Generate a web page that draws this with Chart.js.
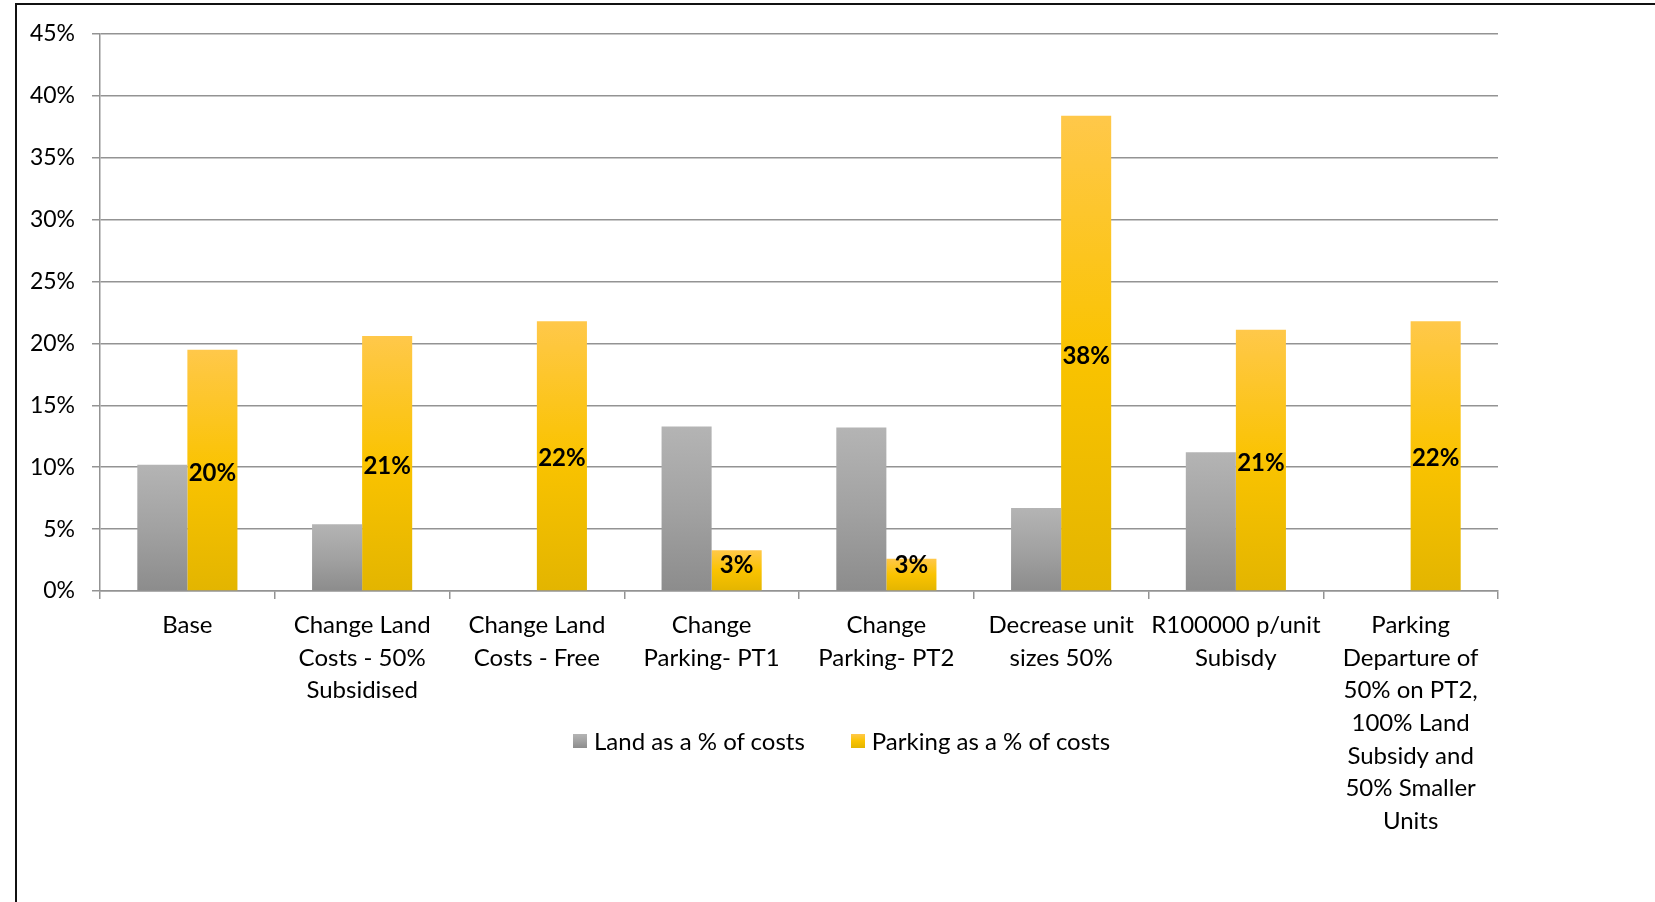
<!DOCTYPE html>
<html>
<head>
<meta charset="utf-8">
<script src="https://cdn.jsdelivr.net/npm/chart.js@4"></script>
<style>
  html, body { margin: 0; padding: 0; background: #fff; overflow: hidden; }
  #wrap { position: relative; width: 1655px; height: 902px; }
  #frame { position: absolute; left: 15px; top: 3px; width: 2000px; height: 2000px; border: 2px solid #111; box-sizing: border-box; }
  #legend { position: absolute; left: 573px; top: 726px; display: flex; align-items: center; font-family: Lato, sans-serif; font-size: 24px; color: #000; }
  #legend .item { display: flex; align-items: center; margin-right: 46px; }
  #legend .sw { width: 14px; height: 14px; margin-right: 7px; }
</style>
</head>
<body>
<div id="wrap">
  <div id="frame"></div>
  <canvas id="myChart"></canvas>
  <div id="legend"></div>
</div>
<script>
const categories = [
    "Base",
    ["Change Land", "Costs - 50%", "Subsidised"],
    ["Change Land", "Costs - Free"],
    ["Change", "Parking- PT1"],
    ["Change", "Parking- PT2"],
    ["Decrease unit", "sizes 50%"],
    ["R100000 p/unit", "Subisdy"],
    ["Parking", "Departure of", "50% on PT2,", "100% Land", "Subsidy and", "50% Smaller", "Units"]
]
const landPct = [10.2, 5.4, 0, 13.3, 13.2, 6.7, 11.2, 0]
const parkingPct = [19.5, 20.6, 21.8, 3.3, 2.6, 38.4, 21.1, 21.8]
const seriesNames = ["Land as a % of costs", "Parking as a % of costs"]
const yMax = 45
const yStep = 5

const greyStops = ['#b4b4b4', '#a2a2a2', '#8c8c8c']
const yellowStops = ['#ffc84a', '#fac300', '#e3b500']

// gradient per bar, top to bottom
function barFill(stops) {
    return function (ctx) {
        const chart = ctx.chart
        if (!chart.chartArea || !chart.scales.y) return stops[1]
        const y = chart.scales.y
        const y0 = y.getPixelForValue(ctx.raw)
        const y1 = y.getPixelForValue(0)
        if (y1 - y0 < 1) return stops[1]
        const g = chart.ctx.createLinearGradient(0, y0, 0, y1)
        g.addColorStop(0, stops[0])
        g.addColorStop(0.5, stops[1])
        g.addColorStop(1, stops[2])
        return g
    }
}

// bold value labels in the middle of the parking bars
const valueLabels = {
    id: 'valueLabels',
    afterDatasetsDraw(chart) {
        const ctx = chart.ctx
        const meta = chart.getDatasetMeta(1)
        ctx.save()
        ctx.font = 'bold 24px Lato, sans-serif'
        ctx.fillStyle = '#000'
        ctx.textAlign = 'center'
        ctx.textBaseline = 'middle'
        meta.data.forEach((bar, i) => {
            const mid = (bar.y + bar.base) / 2 + 3
            const y = Math.min(mid, bar.base - 25)
            ctx.fillText(Math.round(parkingPct[i]) + '%', bar.x, y)
        })
        ctx.restore()
    }
}

const gridColor = '#939393'
const ctx = document.getElementById('myChart').getContext('2d')

const myChart = new Chart(ctx, {
    type: 'bar',
    data: {
        labels: categories,
        datasets: [{
            label: seriesNames[0],
            data: landPct,
            backgroundColor: barFill(greyStops),
            borderWidth: 0
        }, {
            label: seriesNames[1],
            data: parkingPct,
            backgroundColor: barFill(yellowStops),
            borderWidth: 0
        }]
    },
    options: {
        responsive: true,
        maintainAspectRatio: false,
        animation: false,
        categoryPercentage: 0.573,
        barPercentage: 1,
        layout: {
            padding: { left: 0, top: 34, right: 157, bottom: 0 }
        },
        plugins: {
            legend: { display: false },
            tooltip: { enabled: false }
        },
        scales: {
            x: {
                grid: {
                    drawOnChartArea: false,
                    drawTicks: true,
                    tickLength: 8,
                    color: gridColor,
                    lineWidth: 1.5
                },
                border: { color: gridColor, width: 1.5 },
                ticks: {
                    color: '#000',
                    padding: 10,
                    maxRotation: 0,
                    autoSkip: false,
                    font: { family: 'Lato', size: 24, lineHeight: 1.36 }
                },
                afterFit(scale) { scale.height = 311 }
            },
            y: {
                min: 0,
                max: yMax,
                grid: {
                    color: gridColor,
                    lineWidth: 1.5,
                    tickLength: 8
                },
                border: { color: gridColor, width: 1.5 },
                ticks: {
                    stepSize: yStep,
                    color: '#000',
                    padding: 17,
                    font: { family: 'Lato', size: 23 },
                    callback: v => v + '%'
                },
                afterFit(scale) { scale.width = 100 }
            }
        }
    },
    plugins: [valueLabels]
})

// legend drawn as html, it sits over the category labels like in the original
const legendEl = document.querySelector('#legend')
const swatches = [greyStops, yellowStops]
seriesNames.forEach((name, i) => {
    const s = swatches[i]
    legendEl.innerHTML += `
        <div class="item">
            <div class="sw" style="background: linear-gradient(${s[0]}, ${s[1]}, ${s[2]})"></div>
            <span>${name}</span>
        </div>`
})
</script>
</body>
</html>
